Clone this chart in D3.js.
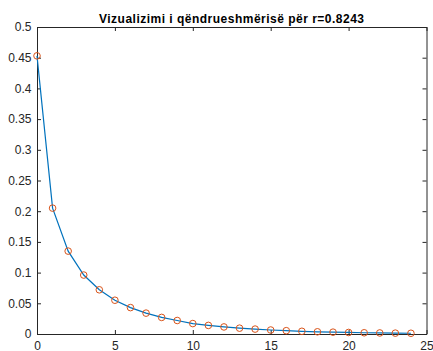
<!DOCTYPE html>
<html>
<head>
<meta charset="utf-8">
<script src="https://cdn.jsdelivr.net/npm/d3@7"></script>
<style>
  html, body { margin: 0; padding: 0; background: #fff; }
  svg { display: block; }
  text { font-family: "Liberation Sans", Arial, Helvetica, sans-serif; }
</style>
</head>
<body>
<svg id="chart" width="433" height="351"></svg>
<script>
// Stability sequence: step index and value
const steps = [0, 1, 2, 3, 4, 5, 6, 7, 8, 9, 10, 11, 12, 13, 14, 15, 16, 17, 18, 19, 20, 21, 22, 23, 24];
const values = [0.453, 0.205, 0.135, 0.096, 0.072, 0.055, 0.043, 0.034, 0.027, 0.022,
                0.017, 0.014, 0.0115, 0.0095, 0.008, 0.0065, 0.0054, 0.0044, 0.0036, 0.003,
                0.0025, 0.002, 0.0017, 0.0014, 0.0012];
const xTicks = [0, 5, 10, 15, 20, 25];
const yTicks = [0, 0.05, 0.1, 0.15, 0.2, 0.25, 0.3, 0.35, 0.4, 0.45, 0.5];
const titleText = "Vizualizimi i qëndrueshmërisë për r=0.8243";

const svg = d3.select("#chart");
const plotLeft = 37, plotRight = 426.5, plotTop = 27, plotBottom = 334;
const axisColor = "#262626";
const labelSize = 12;

const x = d3.scaleLinear().domain([0, 25]).range([plotLeft, plotRight]);
const y = d3.scaleLinear().domain([0, 0.5]).range([plotBottom, plotTop]);

const fmt = d => String(+d.toFixed(2));
const tickLen = 4;

// bottom axis with labels
svg.append("g")
  .attr("transform", `translate(0,${plotBottom})`)
  .call(d3.axisBottom(x).tickValues(xTicks).tickFormat(fmt).tickSizeInner(-tickLen).tickSizeOuter(0).tickPadding(7))
  .call(g => g.select(".domain").attr("stroke", axisColor))
  .call(g => g.selectAll(".tick line").attr("stroke", axisColor))
  .call(g => g.selectAll("text").attr("fill", axisColor).attr("font-size", labelSize));

// left axis with labels
svg.append("g")
  .attr("transform", `translate(${plotLeft},0)`)
  .call(d3.axisLeft(y).tickValues(yTicks).tickFormat(fmt).tickSizeInner(-tickLen).tickSizeOuter(0).tickPadding(5.5))
  .call(g => g.select(".domain").attr("stroke", axisColor))
  .call(g => g.selectAll(".tick line").attr("stroke", axisColor))
  .call(g => g.selectAll("text").attr("fill", axisColor).attr("font-size", labelSize));

// top axis, ticks only
svg.append("g")
  .attr("transform", `translate(0,${plotTop})`)
  .call(d3.axisTop(x).tickValues(xTicks).tickFormat("").tickSizeInner(-tickLen).tickSizeOuter(0))
  .call(g => g.select(".domain").attr("stroke", axisColor))
  .call(g => g.selectAll(".tick line").attr("stroke", axisColor));

// right axis, ticks only
svg.append("g")
  .attr("transform", `translate(${plotRight},0)`)
  .call(d3.axisRight(y).tickValues(yTicks).tickFormat("").tickSizeInner(-tickLen).tickSizeOuter(0))
  .call(g => g.select(".domain").attr("stroke", axisColor))
  .call(g => g.selectAll(".tick line").attr("stroke", axisColor));

const pts = steps.map((s, i) => ({ s, v: values[i] }));

// connecting line
svg.append("path")
  .datum(pts)
  .attr("fill", "none")
  .attr("stroke", "#0072BD")
  .attr("stroke-width", 1.2)
  .attr("d", d3.line().x(d => x(d.s)).y(d => y(d.v)));

// circle markers
svg.append("g")
  .selectAll("circle")
  .data(pts)
  .join("circle")
  .attr("cx", d => x(d.s))
  .attr("cy", d => y(d.v))
  .attr("r", 3.3)
  .attr("fill", "none")
  .attr("stroke", "#D95319")
  .attr("stroke-width", 1);

// title, letter-spaced to span about 265px
const title = svg.append("text")
  .attr("x", (plotLeft + plotRight) / 2)
  .attr("y", 23)
  .attr("text-anchor", "middle")
  .attr("font-size", 12)
  .attr("font-weight", "bold")
  .attr("fill", "#000")
  .text(titleText);
const naturalWidth = title.node().getComputedTextLength();
const spacing = (265 - naturalWidth) / (titleText.length - 1);
title.attr("letter-spacing", spacing.toFixed(2));
</script>
</body>
</html>
